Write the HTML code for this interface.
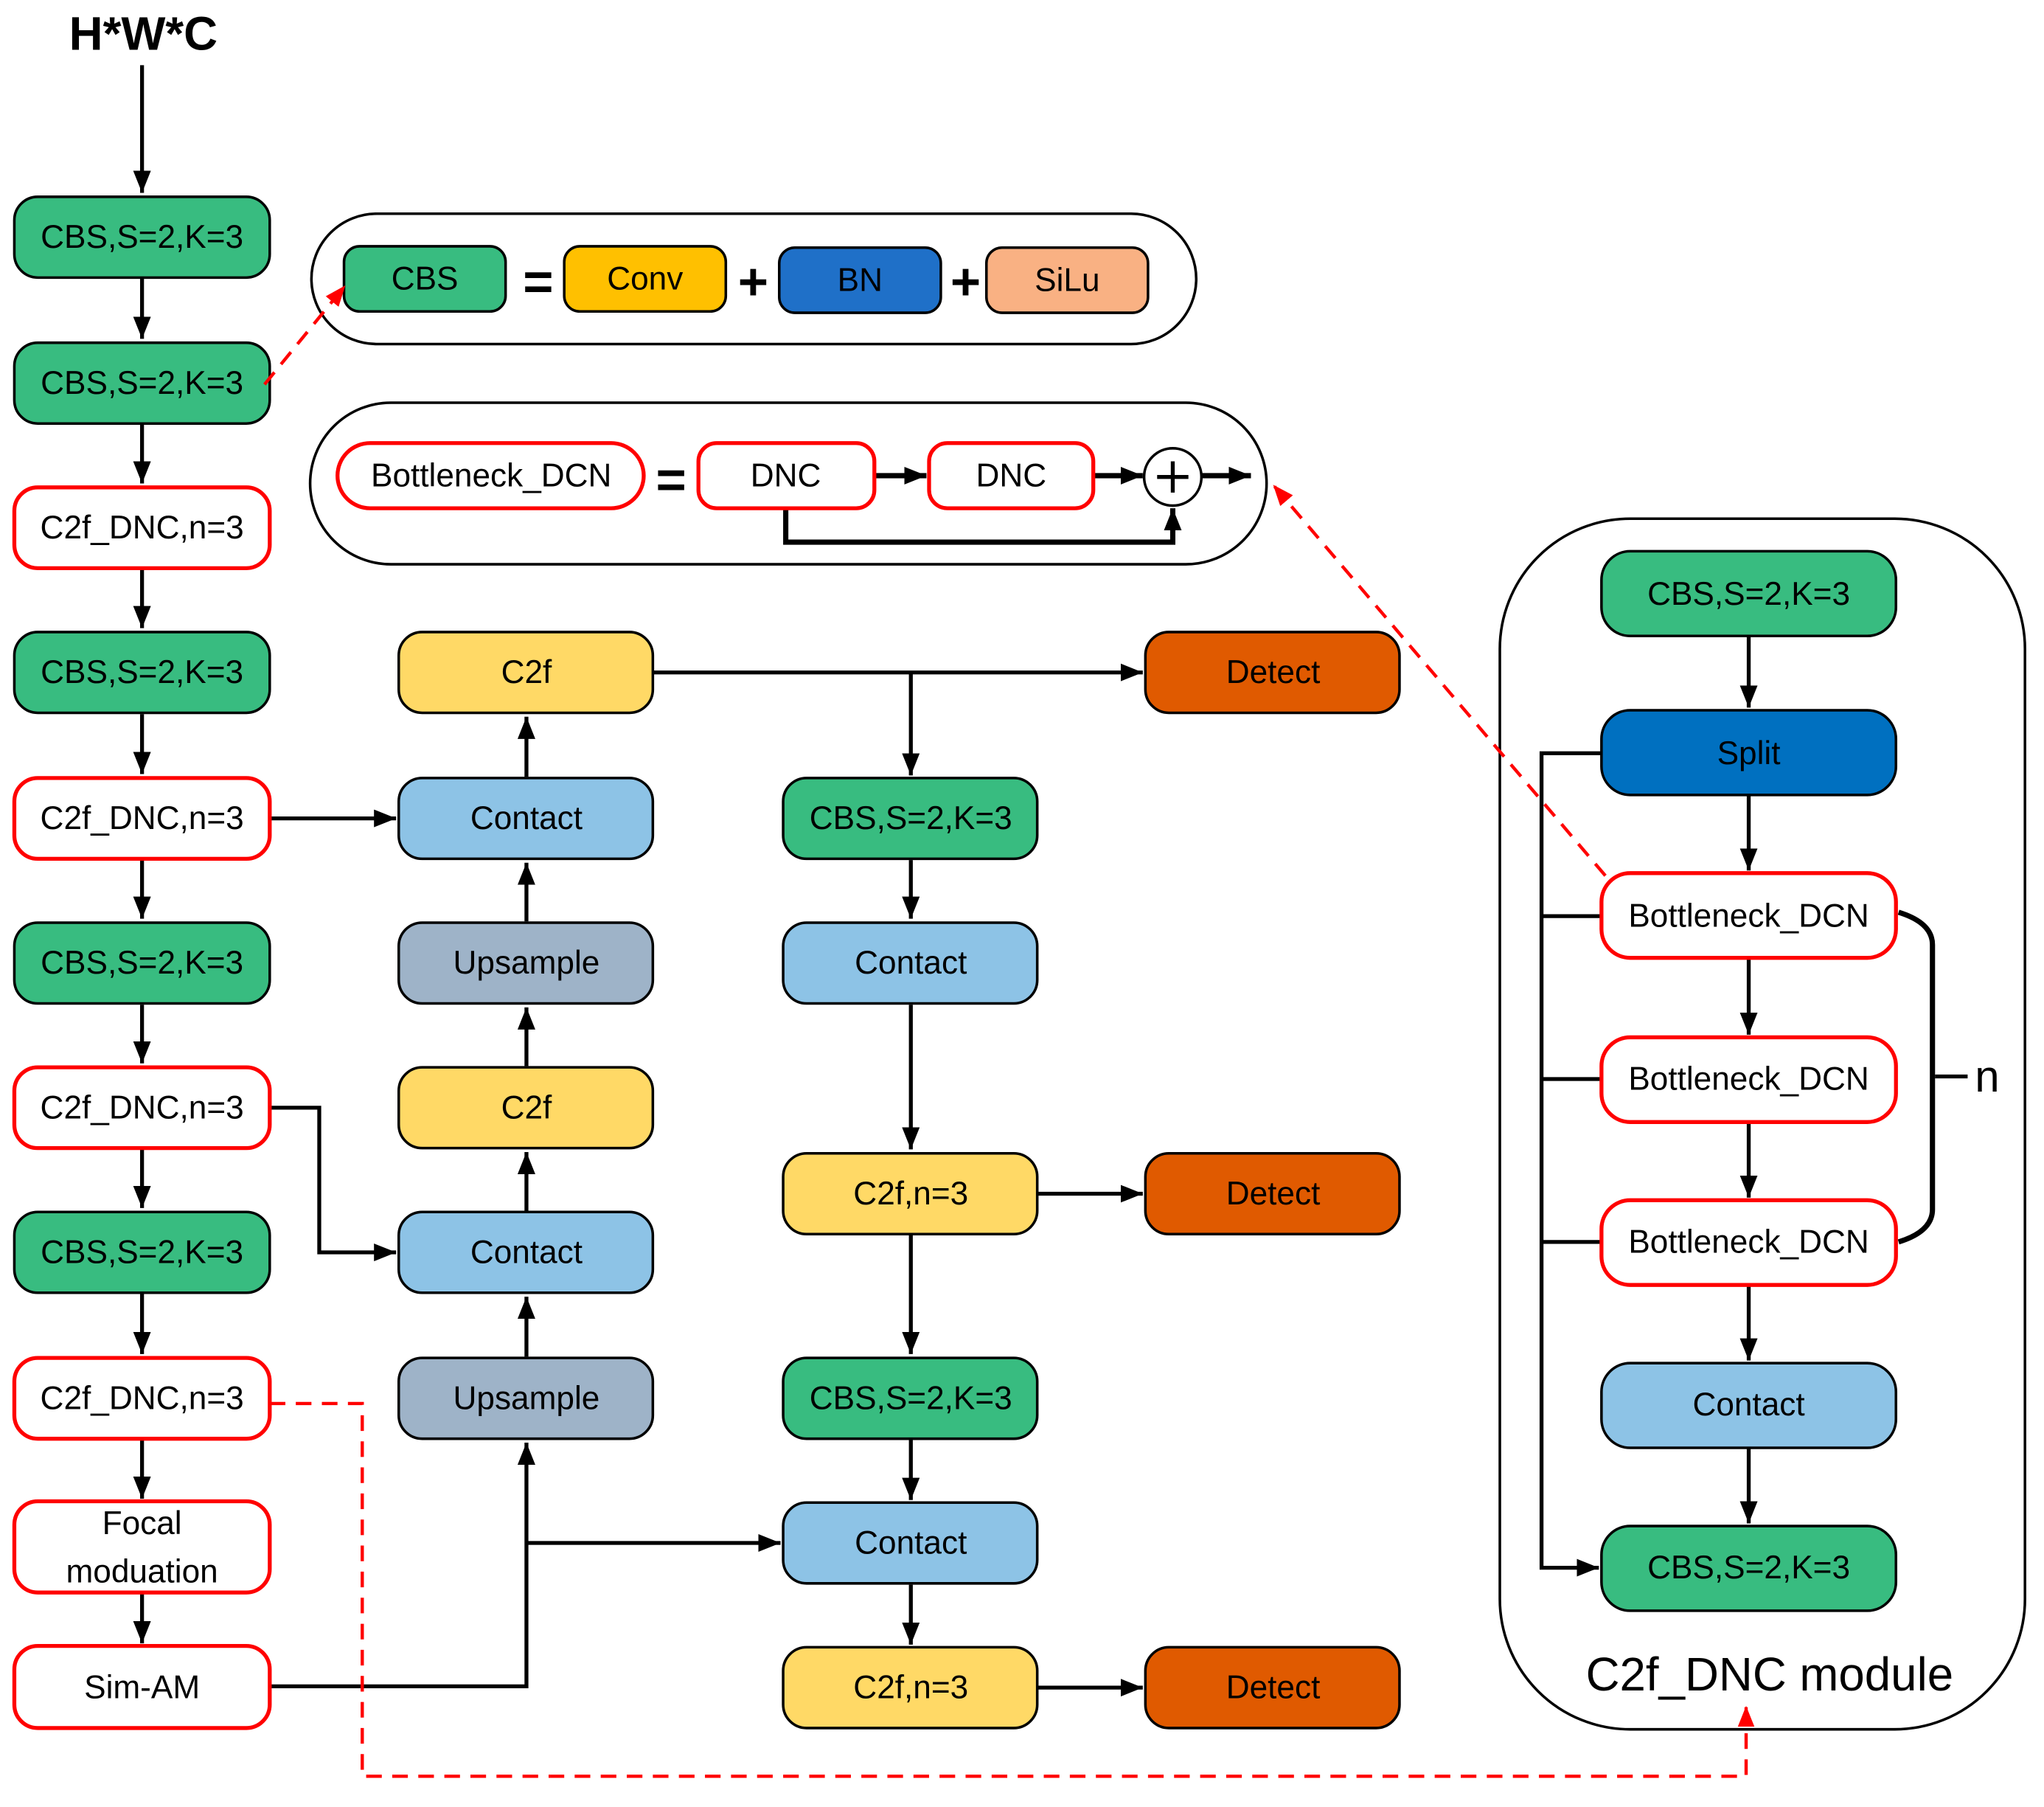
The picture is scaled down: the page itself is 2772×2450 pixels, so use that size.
<!DOCTYPE html>
<html><head><meta charset="utf-8"><style>
html,body{margin:0;padding:0;background:#fff;}
svg{display:block;}
text{font-family:"Liberation Sans",sans-serif;font-size:25px;fill:#000;text-anchor:middle;dominant-baseline:central;}
</style></head><body>
<svg width="2772" height="2450" viewBox="0 0 1568.6 1386.6" preserveAspectRatio="none" xmlns="http://www.w3.org/2000/svg">
<defs>
<marker id="b" viewBox="0 0 10 10" refX="10" refY="5" markerWidth="17" markerHeight="17" orient="auto" markerUnits="userSpaceOnUse"><path d="M0,1 L10,5 L0,9 z" fill="#000"/></marker>
<marker id="r" viewBox="0 0 10 10" refX="10" refY="5" markerWidth="16" markerHeight="16" orient="auto" markerUnits="userSpaceOnUse"><path d="M0,1 L10,5 L0,9 z" fill="#f00"/></marker>
</defs>
<g stroke="#000" stroke-width="3" fill="none">
<path d="M109,50V148" marker-end="url(#b)"/>
<path d="M109,213V260" marker-end="url(#b)"/>
<path d="M109,325V371" marker-end="url(#b)"/>
<path d="M109,436V482" marker-end="url(#b)"/>
<path d="M109,548V594" marker-end="url(#b)"/>
<path d="M109,660V705" marker-end="url(#b)"/>
<path d="M109,771V816" marker-end="url(#b)"/>
<path d="M109,882V927" marker-end="url(#b)"/>
<path d="M109,993V1039" marker-end="url(#b)"/>
<path d="M109,1105V1150" marker-end="url(#b)"/>
<path d="M109,1222V1261" marker-end="url(#b)"/>
<path d="M207,628H304" marker-end="url(#b)"/>
<path d="M207,850H245V961H304" marker-end="url(#b)"/>
<path d="M207,1294H404V1107" marker-end="url(#b)"/>
<path d="M404,1184H599" marker-end="url(#b)"/>
<path d="M404,1041V995" marker-end="url(#b)"/>
<path d="M404,929V884" marker-end="url(#b)"/>
<path d="M404,818V773" marker-end="url(#b)"/>
<path d="M404,707V662" marker-end="url(#b)"/>
<path d="M404,596V550" marker-end="url(#b)"/>
<path d="M501,516H877" marker-end="url(#b)"/>
<path d="M699,516V595" marker-end="url(#b)"/>
<path d="M699,660V705" marker-end="url(#b)"/>
<path d="M699,771V882" marker-end="url(#b)"/>
<path d="M796,916H877" marker-end="url(#b)"/>
<path d="M699,948V1039" marker-end="url(#b)"/>
<path d="M699,1105V1151" marker-end="url(#b)"/>
<path d="M699,1216V1262" marker-end="url(#b)"/>
<path d="M796,1295H877" marker-end="url(#b)"/>
<rect x="239" y="164" width="679" height="100" rx="50" stroke-width="2"/>
<rect x="238" y="309" width="734" height="124" rx="62" stroke-width="2"/>
<rect x="1151" y="398" width="403" height="929" rx="100" stroke-width="2"/>
<path d="M671,365H711" stroke-width="4" marker-end="url(#b)"/>
<path d="M839,365H877" stroke-width="4" marker-end="url(#b)"/>
<path d="M922,365H960" stroke-width="4" marker-end="url(#b)"/>
<path d="M603,390V416H900V390" stroke-width="4" marker-end="url(#b)"/>
<circle cx="900" cy="366" r="22" stroke-width="2" fill="#fff"/>
<path d="M888,366H912M900,354V378" stroke-width="3"/>
<path d="M1342,488V543" marker-end="url(#b)"/>
<path d="M1342,610V668" marker-end="url(#b)"/>
<path d="M1342,735V794" marker-end="url(#b)"/>
<path d="M1342,861V919" marker-end="url(#b)"/>
<path d="M1342,986V1044" marker-end="url(#b)"/>
<path d="M1342,1111V1169" marker-end="url(#b)"/>
<path d="M1229,578H1183V1203H1227" marker-end="url(#b)"/>
<path d="M1183,703H1229M1183,828H1229M1183,953H1229"/>
<path d="M1457,700Q1483,708 1483,725V928Q1483,945 1457,953" stroke-width="4"/>
<path d="M1485,826H1510"/>
</g>
<text x="413" y="216" style="font-size:40px;font-weight:bold">=</text>
<text x="578" y="216" style="font-size:40px;font-weight:bold">+</text>
<text x="741" y="216" style="font-size:40px;font-weight:bold">+</text>
<text x="515" y="368" style="font-size:40px;font-weight:bold">=</text>
<text x="110" y="26" style="font-size:36px;font-weight:bold">H*W*C</text>
<text x="1525" y="826" style="font-size:34px">n</text>
<text x="1358" y="1285" style="font-size:36px">C2f_DNC  module</text>
<g stroke-width="2">
<g stroke="#000">
<rect x="11" y="151" width="196" height="62" rx="18" fill="#38BC80"/>
<rect x="11" y="263" width="196" height="62" rx="18" fill="#38BC80"/>
<rect x="11" y="485" width="196" height="62" rx="18" fill="#38BC80"/>
<rect x="11" y="708" width="196" height="62" rx="18" fill="#38BC80"/>
<rect x="11" y="930" width="196" height="62" rx="18" fill="#38BC80"/>
<rect x="306" y="485" width="195" height="62" rx="18" fill="#FFD966"/>
<rect x="306" y="597" width="195" height="62" rx="18" fill="#8DC3E6"/>
<rect x="306" y="708" width="195" height="62" rx="18" fill="#9EB3C8"/>
<rect x="306" y="819" width="195" height="62" rx="18" fill="#FFD966"/>
<rect x="306" y="930" width="195" height="62" rx="18" fill="#8DC3E6"/>
<rect x="306" y="1042" width="195" height="62" rx="18" fill="#9EB3C8"/>
<rect x="601" y="597" width="195" height="62" rx="18" fill="#38BC80"/>
<rect x="601" y="708" width="195" height="62" rx="18" fill="#8DC3E6"/>
<rect x="601" y="885" width="195" height="62" rx="18" fill="#FFD966"/>
<rect x="601" y="1042" width="195" height="62" rx="18" fill="#38BC80"/>
<rect x="601" y="1153" width="195" height="62" rx="18" fill="#8DC3E6"/>
<rect x="601" y="1264" width="195" height="62" rx="18" fill="#FFD966"/>
<rect x="879" y="485" width="195" height="62" rx="18" fill="#E05A00"/>
<rect x="879" y="885" width="195" height="62" rx="18" fill="#E05A00"/>
<rect x="879" y="1264" width="195" height="62" rx="18" fill="#E05A00"/>
<rect x="264" y="189" width="124" height="50" rx="12" fill="#38BC80"/>
<rect x="433" y="189" width="124" height="50" rx="12" fill="#FFC000"/>
<rect x="598" y="190" width="124" height="50" rx="12" fill="#1F70C8"/>
<rect x="757" y="190" width="124" height="50" rx="12" fill="#F9B183"/>
<rect x="1229" y="423" width="226" height="65" rx="22" fill="#38BC80"/>
<rect x="1229" y="545" width="226" height="65" rx="22" fill="#0070C0"/>
<rect x="1229" y="1046" width="226" height="65" rx="22" fill="#8DC3E6"/>
<rect x="1229" y="1171" width="226" height="65" rx="22" fill="#38BC80"/>
</g>
<g stroke="#f00" stroke-width="3" fill="#fff">
<rect x="11" y="374" width="196" height="62" rx="18"/>
<rect x="11" y="597" width="196" height="62" rx="18"/>
<rect x="11" y="819" width="196" height="62" rx="18"/>
<rect x="11" y="1042" width="196" height="62" rx="18"/>
<rect x="11" y="1152" width="196" height="70" rx="18"/>
<rect x="11" y="1263" width="196" height="63" rx="18"/>
<rect x="259" y="340" width="235" height="50" rx="25"/>
<rect x="536" y="340" width="135" height="50" rx="14"/>
<rect x="713" y="340" width="126" height="50" rx="14"/>
<rect x="1229" y="670" width="226" height="65" rx="22"/>
<rect x="1229" y="796" width="226" height="65" rx="22"/>
<rect x="1229" y="921" width="226" height="65" rx="22"/>
</g>
</g>
<g>
<text x="109" y="182">CBS,S=2,K=3</text>
<text x="109" y="294">CBS,S=2,K=3</text>
<text x="109" y="405">C2f_DNC,n=3</text>
<text x="109" y="516">CBS,S=2,K=3</text>
<text x="109" y="628">C2f_DNC,n=3</text>
<text x="109" y="739">CBS,S=2,K=3</text>
<text x="109" y="850">C2f_DNC,n=3</text>
<text x="109" y="961">CBS,S=2,K=3</text>
<text x="109" y="1073">C2f_DNC,n=3</text>
<text x="109" y="1169">Focal</text>
<text x="109" y="1206">moduation</text>
<text x="109" y="1295">Sim-AM</text>
<text x="404" y="516">C2f</text>
<text x="404" y="628">Contact</text>
<text x="404" y="739">Upsample</text>
<text x="404" y="850">C2f</text>
<text x="404" y="961">Contact</text>
<text x="404" y="1073">Upsample</text>
<text x="699" y="628">CBS,S=2,K=3</text>
<text x="699" y="739">Contact</text>
<text x="699" y="916">C2f,n=3</text>
<text x="699" y="1073">CBS,S=2,K=3</text>
<text x="699" y="1184">Contact</text>
<text x="699" y="1295">C2f,n=3</text>
<text x="977" y="516">Detect</text>
<text x="977" y="916">Detect</text>
<text x="977" y="1295">Detect</text>
<text x="326" y="214">CBS</text>
<text x="495" y="214">Conv</text>
<text x="660" y="215">BN</text>
<text x="819" y="215">SiLu</text>
<text x="377" y="365">Bottleneck_DCN</text>
<text x="603" y="365">DNC</text>
<text x="776" y="365">DNC</text>
<text x="1342" y="456">CBS,S=2,K=3</text>
<text x="1342" y="578">Split</text>
<text x="1342" y="703">Bottleneck_DCN</text>
<text x="1342" y="828">Bottleneck_DCN</text>
<text x="1342" y="953">Bottleneck_DCN</text>
<text x="1342" y="1078">Contact</text>
<text x="1342" y="1203">CBS,S=2,K=3</text>
</g>
<g stroke="#f00" stroke-width="2.5" fill="none" stroke-dasharray="12,8">
<path d="M203,295L265,219" marker-end="url(#r)"/>
<path d="M1232,672L977,372" marker-end="url(#r)"/>
<path d="M207,1077H278V1363H1340V1309" marker-end="url(#r)"/>
</g>
</svg>
</body></html>
